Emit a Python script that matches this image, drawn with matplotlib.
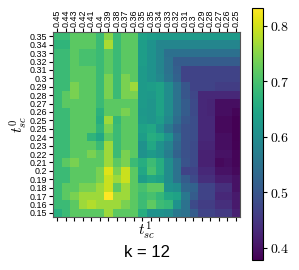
import matplotlib.pyplot as plt
import numpy as np

plt.rcParams['mathtext.fontset'] = 'cm'

# tick labels (t1 along x, t0 along y, top row first)
t1_labels = ['0.45', '0.44', '0.43', '0.42', '0.41', '0.4', '0.39', '0.38', '0.37', '0.36', '0.35',
             '0.35', '0.34', '0.33', '0.32', '0.31', '0.3', '0.29', '0.28', '0.27', '0.26', '0.25']
t0_labels = ['0.35', '0.34', '0.33', '0.32', '0.31', '0.3', '0.29', '0.28', '0.27', '0.26', '0.25',
             '0.25', '0.24', '0.23', '0.22', '0.21', '0.2', '0.19', '0.18', '0.17', '0.16', '0.15']

# left block: t1 = 0.45 .. 0.35 (11 columns)
left = [
    [0.687, 0.687, 0.718, 0.718, 0.718, 0.687, 0.750, 0.687, 0.718, 0.718, 0.640],
    [0.675, 0.675, 0.718, 0.718, 0.718, 0.687, 0.775, 0.687, 0.718, 0.718, 0.630],
    [0.687, 0.687, 0.718, 0.700, 0.700, 0.687, 0.718, 0.687, 0.718, 0.718, 0.630],
    [0.687, 0.687, 0.718, 0.700, 0.700, 0.687, 0.718, 0.687, 0.718, 0.718, 0.630],
    [0.687, 0.687, 0.718, 0.718, 0.718, 0.687, 0.718, 0.687, 0.718, 0.718, 0.625],
    [0.687, 0.687, 0.718, 0.718, 0.718, 0.687, 0.740, 0.687, 0.740, 0.718, 0.625],
    [0.687, 0.687, 0.740, 0.718, 0.718, 0.687, 0.740, 0.687, 0.740, 0.765, 0.625],
    [0.687, 0.718, 0.740, 0.718, 0.718, 0.687, 0.740, 0.687, 0.740, 0.740, 0.625],
    [0.687, 0.718, 0.718, 0.718, 0.718, 0.687, 0.718, 0.718, 0.718, 0.718, 0.625],
    [0.687, 0.687, 0.718, 0.718, 0.718, 0.670, 0.718, 0.718, 0.740, 0.718, 0.620],
    [0.687, 0.687, 0.718, 0.718, 0.718, 0.660, 0.765, 0.680, 0.718, 0.718, 0.625],
    [0.687, 0.687, 0.718, 0.718, 0.718, 0.675, 0.740, 0.687, 0.718, 0.718, 0.640],
    [0.687, 0.687, 0.718, 0.718, 0.675, 0.650, 0.718, 0.687, 0.718, 0.718, 0.630],
    [0.687, 0.687, 0.718, 0.718, 0.718, 0.687, 0.765, 0.687, 0.718, 0.718, 0.610],
    [0.687, 0.687, 0.718, 0.718, 0.740, 0.718, 0.765, 0.687, 0.740, 0.718, 0.610],
    [0.687, 0.718, 0.740, 0.718, 0.718, 0.718, 0.765, 0.718, 0.740, 0.687, 0.660],
    [0.687, 0.687, 0.718, 0.718, 0.718, 0.740, 0.810, 0.740, 0.795, 0.718, 0.650],
    [0.687, 0.687, 0.718, 0.718, 0.718, 0.740, 0.795, 0.765, 0.795, 0.718, 0.630],
    [0.687, 0.718, 0.718, 0.740, 0.740, 0.765, 0.795, 0.718, 0.765, 0.718, 0.700],
    [0.687, 0.718, 0.740, 0.765, 0.765, 0.765, 0.832, 0.765, 0.765, 0.718, 0.690],
    [0.687, 0.687, 0.718, 0.765, 0.780, 0.765, 0.765, 0.765, 0.740, 0.718, 0.690],
    [0.665, 0.687, 0.718, 0.718, 0.718, 0.718, 0.765, 0.718, 0.718, 0.718, 0.660],
]

# right block: t1 = 0.35 .. 0.25 (11 columns)
right = [
    [0.630, 0.625, 0.625, 0.625, 0.625, 0.625, 0.625, 0.625, 0.625, 0.625, 0.625],
    [0.610, 0.585, 0.585, 0.585, 0.585, 0.585, 0.585, 0.585, 0.585, 0.585, 0.585],
    [0.610, 0.585, 0.545, 0.545, 0.545, 0.545, 0.545, 0.545, 0.545, 0.545, 0.545],
    [0.610, 0.585, 0.550, 0.510, 0.510, 0.510, 0.510, 0.510, 0.510, 0.510, 0.510],
    [0.610, 0.585, 0.550, 0.515, 0.470, 0.470, 0.470, 0.470, 0.470, 0.470, 0.470],
    [0.610, 0.590, 0.555, 0.520, 0.470, 0.470, 0.470, 0.470, 0.470, 0.470, 0.470],
    [0.630, 0.640, 0.600, 0.550, 0.500, 0.470, 0.470, 0.470, 0.460, 0.460, 0.460],
    [0.620, 0.640, 0.600, 0.550, 0.500, 0.475, 0.430, 0.430, 0.430, 0.430, 0.430],
    [0.615, 0.640, 0.600, 0.550, 0.510, 0.480, 0.430, 0.425, 0.395, 0.395, 0.395],
    [0.615, 0.640, 0.600, 0.550, 0.510, 0.480, 0.430, 0.425, 0.395, 0.395, 0.385],
    [0.615, 0.630, 0.590, 0.540, 0.500, 0.485, 0.430, 0.430, 0.390, 0.390, 0.378],
    [0.650, 0.610, 0.560, 0.520, 0.490, 0.485, 0.430, 0.430, 0.390, 0.390, 0.378],
    [0.660, 0.650, 0.610, 0.540, 0.490, 0.485, 0.430, 0.430, 0.395, 0.395, 0.378],
    [0.650, 0.610, 0.580, 0.530, 0.490, 0.480, 0.425, 0.425, 0.395, 0.395, 0.380],
    [0.625, 0.610, 0.570, 0.520, 0.490, 0.480, 0.420, 0.420, 0.400, 0.400, 0.385],
    [0.690, 0.660, 0.600, 0.550, 0.495, 0.480, 0.420, 0.420, 0.390, 0.395, 0.385],
    [0.700, 0.660, 0.600, 0.550, 0.470, 0.470, 0.430, 0.430, 0.400, 0.400, 0.390],
    [0.650, 0.640, 0.600, 0.550, 0.510, 0.480, 0.440, 0.440, 0.415, 0.415, 0.400],
    [0.720, 0.720, 0.610, 0.600, 0.530, 0.520, 0.470, 0.470, 0.440, 0.440, 0.400],
    [0.700, 0.680, 0.650, 0.640, 0.560, 0.510, 0.470, 0.470, 0.430, 0.430, 0.410],
    [0.720, 0.690, 0.680, 0.610, 0.550, 0.480, 0.460, 0.460, 0.440, 0.440, 0.410],
    [0.610, 0.610, 0.600, 0.560, 0.550, 0.510, 0.470, 0.470, 0.455, 0.455, 0.420],
]

scores = np.hstack([np.array(left), np.array(right)])

fig = plt.figure(figsize=(2.99, 2.70), dpi=100)
ax = fig.add_axes([0.177, 0.196, 0.626, 0.685])
cax = fig.add_axes([0.842, 0.037, 0.038, 0.933])

im = ax.imshow(scores, cmap='viridis', aspect='auto', interpolation='nearest')

tick_font = {'family': 'Liberation Sans', 'size': 6.4}
ax.set_xticks(np.arange(len(t1_labels)))
ax.set_yticks(np.arange(len(t0_labels)))
ax.set_yticklabels(t0_labels, fontdict=tick_font)
ax.tick_params(axis='x', top=True, labeltop=True, bottom=True, labelbottom=False,
               length=3, width=0.8, pad=1)
ax.tick_params(axis='y', length=3, width=0.8, pad=1)
ax.set_xticklabels(t1_labels, fontdict=tick_font, rotation=90)
for s in ax.spines.values():
    s.set_color('#555555')

ax.set_xlabel(r'$t^{1}_{sc}$', fontsize=11, labelpad=-1)
ax.set_ylabel(r'$t^{0}_{sc}$', fontsize=11, labelpad=0)
fig.text(0.49, 0.063, 'k = 12', ha='center', va='center', fontsize=12,
         family='Liberation Sans')

cb = fig.colorbar(im, cax=cax)
cb.set_ticks([0.4, 0.5, 0.6, 0.7, 0.8])
cb.set_ticklabels([r'$0.4$', r'$0.5$', r'$0.6$', r'$0.7$', r'$0.8$'])
cb.ax.tick_params(labelsize=10, length=3, pad=2)
cb.outline.set_linewidth(0.8)

fig.savefig('out.png', dpi=100)
